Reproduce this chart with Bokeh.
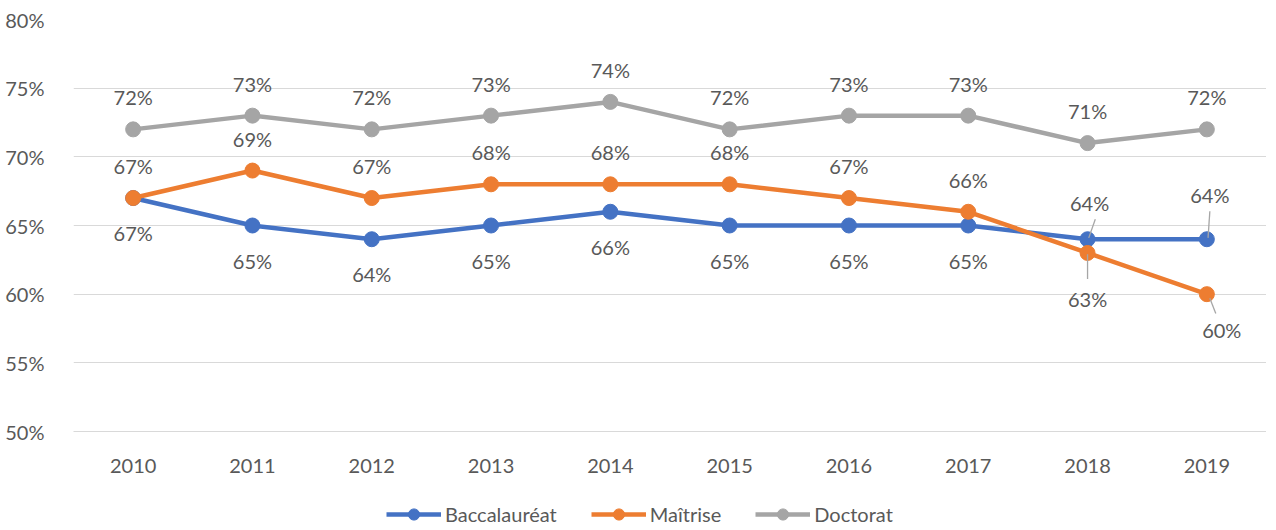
from bokeh.plotting import figure
from bokeh.layouts import column
from bokeh.models import FixedTicker, Legend, LegendItem, ColumnDataSource
from bokeh.core.properties import value
from bokeh.embed import file_html
from bokeh.resources import INLINE

years = ["2010", "2011", "2012", "2013", "2014", "2015", "2016", "2017", "2018", "2019"]
bacc = [67, 65, 64, 65, 66, 65, 65, 65, 64, 64]
maitrise = [67, 69, 67, 68, 68, 68, 67, 66, 63, 60]
doctorat = [72, 73, 72, 73, 74, 72, 73, 73, 71, 72]
y_ticks = [50, 55, 60, 65, 70, 75, 80]

names = ["Baccalauréat", "Maîtrise", "Doctorat"]
colors = ["#4472C4", "#ED7D31", "#A5A5A5"]

# label placement (offsets from each point, in axis units)
up, dn = 2.33, -2.55
lab_dx = {
    "Baccalauréat": [0] * 8 + [0.017, 0.025],
    "Maîtrise": [0] * 8 + [0.0, 0.125],
    "Doctorat": [0] * 10,
}
lab_dy = {
    "Baccalauréat": [dn] * 8 + [2.62, 3.2],
    "Maîtrise": [up] * 8 + [-3.35, -2.62],
    "Doctorat": [up] * 10,
}
# leader lines: (series, index, dx0, dy0, dx1, dy1)
leaders = [
    ("Baccalauréat", 8, 0.065, 1.45, 0.01, 0.1),
    ("Baccalauréat", 9, 0.025, 2.04, 0.01, 0.1),
    ("Maîtrise", 8, 0.0, -0.1, 0.0, -1.9),
    ("Maîtrise", 9, 0.025, -0.3, 0.075, -1.4),
]

series = {"Baccalauréat": bacc, "Maîtrise": maitrise, "Doctorat": doctorat}
xs = list(range(len(years)))

FONT = "Lato"
TXT = "#595959"
W = 1266

p = figure(width=W, height=480, output_backend="svg", toolbar_location=None,
           x_range=(-0.5, len(years) - 0.5), y_range=(50, 80),
           min_border_left=73, min_border_right=0, min_border_top=19, min_border_bottom=49)
p.outline_line_color = None
p.background_fill_color = "white"
p.border_fill_color = "white"

p.xgrid.grid_line_color = None
p.ygrid.grid_line_color = "#D9D9D9"
p.ygrid.grid_line_width = 1
p.yaxis.ticker = FixedTicker(ticks=y_ticks)
p.yaxis.major_label_overrides = {t: f"{t}%" for t in y_ticks}
p.xaxis.ticker = FixedTicker(ticks=xs)
p.xaxis.major_label_overrides = {i: y for i, y in enumerate(years)}

for ax in (p.xaxis[0], p.yaxis[0]):
    ax.major_tick_line_color = None
    ax.minor_tick_line_color = None
    ax.major_label_text_font = FONT
    ax.major_label_text_font_size = "20px"
    ax.major_label_text_color = TXT
p.yaxis.axis_line_color = None
p.xaxis.axis_line_color = "#D9D9D9"
p.yaxis.major_label_standoff = 23
p.xaxis.major_label_standoff = 21

for name, col in zip(names, colors):
    vals = series[name]
    p.line(xs, vals, line_color=col, line_width=4.5, line_join="round")
    p.scatter(xs, vals, size=15, fill_color=col, line_color=col)

for name, col in zip(names, colors):
    vals = series[name]
    src = ColumnDataSource(dict(
        x=[i + d for i, d in zip(xs, lab_dx[name])],
        y=[v + d for v, d in zip(vals, lab_dy[name])],
        t=[f"{v}%" for v in vals]))
    p.text(x="x", y="y", text="t", source=src, text_align="center",
           text_baseline="middle", text_font=value(FONT), text_font_size="20px",
           text_color=TXT)

lx0, ly0, lx1, ly1 = [], [], [], []
for name, i, dx0, dy0, dx1, dy1 in leaders:
    v = series[name][i]
    lx0.append(xs[i] + dx0); ly0.append(v + dy0)
    lx1.append(xs[i] + dx1); ly1.append(v + dy1)
p.segment(lx0, ly0, lx1, ly1, line_color="#A6A6A6", line_width=1.3)

# legend strip (its swatch renderers sit outside the visible range)
q = figure(width=W, height=46, output_backend="svg", toolbar_location=None,
           x_range=(0, 1), y_range=(0, 1), x_axis_type=None, y_axis_type=None,
           min_border=0)
q.outline_line_color = None
q.grid.grid_line_color = None
items = []
for name, col in zip(names, colors):
    r1 = q.line([5, 6], [5, 6], line_color=col, line_width=4.5)
    r2 = q.scatter([5], [5], size=15, fill_color=col, line_color=col)
    items.append(LegendItem(label=name, renderers=[r1, r2]))
legend = Legend(items=items, orientation="horizontal", location=(313, -2),
                glyph_width=55, glyph_height=28, label_height=28, label_standoff=4,
                spacing=34, padding=0, margin=0,
                label_text_font=FONT, label_text_font_size="20px", label_text_color=TXT,
                border_line_color=None, background_fill_alpha=0)
q.add_layout(legend, "center")

open("out.html", "w").write(file_html(column(p, q, spacing=0), INLINE))
